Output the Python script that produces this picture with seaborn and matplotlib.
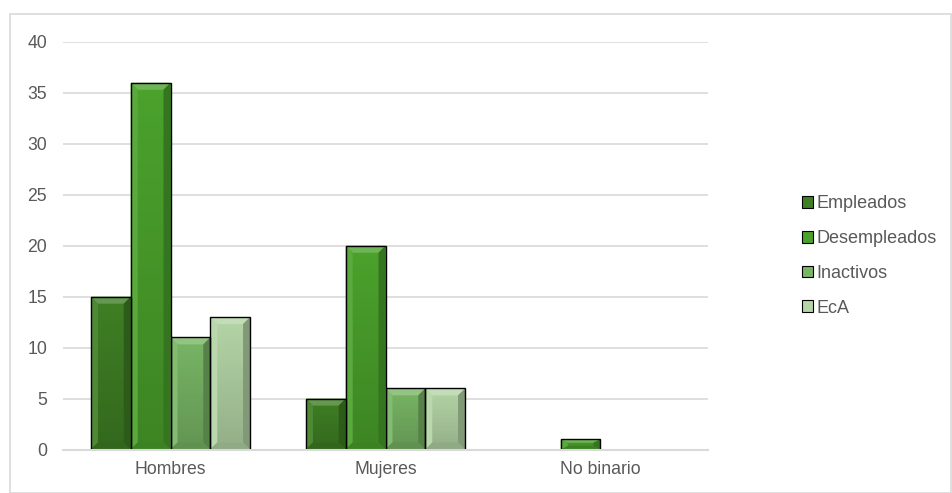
import numpy as np
import pandas as pd
import seaborn as sns
import matplotlib
from matplotlib import pyplot as plt
from matplotlib.patches import Polygon, Rectangle
from matplotlib.colors import to_rgb

matplotlib.use("Agg")

categories = ["Hombres", "Mujeres", "No binario"]
series = ["Empleados", "Desempleados", "Inactivos", "EcA"]
empleados = [15, 5, 0]
desempleados = [36, 20, 1]
inactivos = [11, 6, 0]
eca = [13, 6, 0]
yticks = [0, 5, 10, 15, 20, 25, 30, 35, 40]

colors = ["#3f7f24", "#4ba22c", "#78b565", "#b4d5a6"]
grey = "#d9d9d9"
text_c = "#595959"

sns.set_style("white")
plt.rcParams["font.family"] = ["Liberation Sans", "DejaVu Sans"]
fs = 12.7

rows = []
for s, vals in zip(series, [empleados, desempleados, inactivos, eca]):
    for c, v in zip(categories, vals):
        rows.append({"cat": c, "serie": s, "valor": v})
df = pd.DataFrame(rows)

fig = plt.figure(figsize=(9.52, 4.93), dpi=100)
ax = fig.add_axes([63 / 952, 43.5 / 493, 645 / 952, 407.5 / 493])

sns.barplot(data=df, x="cat", y="valor", hue="serie", hue_order=series,
            palette=colors, width=0.74, gap=0, saturation=1,
            edgecolor="none", linewidth=0, legend=False, ax=ax, zorder=2)

ax.set_xlim(-0.5, 2.5)
ax.set_ylim(0, 40)
ax.set_yticks(yticks)
ax.set_xlabel("")
ax.set_ylabel("")
ax.yaxis.grid(True, color=grey, linewidth=1.2, zorder=0)
ax.set_axisbelow(True)
for side in ["left", "right", "top"]:
    ax.spines[side].set_visible(False)
ax.spines["bottom"].set_color(grey)
ax.spines["bottom"].set_linewidth(1.5)
ax.set_xticks([-0.5, 0.5, 1.5, 2.5], minor=True)
ax.tick_params(axis="x", which="major", length=0, pad=8, labelsize=fs, labelcolor=text_c)
ax.tick_params(axis="x", which="minor", length=5, width=1.3, color=grey, direction="out")
ax.tick_params(axis="y", length=0, pad=11.5, labelsize=fs, labelcolor=text_c)

# bevel effect, sized in pixels converted to data units
inv = ax.transData.inverted()
p0 = inv.transform((0, 0))
p1 = inv.transform((7, 7))
bx, by = p1[0] - p0[0], p1[1] - p0[1]


def shade(c, f):
    r = np.array(to_rgb(c))
    if f > 0:
        return tuple(r + (1 - r) * f)
    return tuple(r * (1 + f))


# dark overlay, transparent at the top of a bar, darker towards its base
grad = np.zeros((100, 1, 4))
grad[..., 3] = np.linspace(0, 0.18, 100)[:, None]

for i, bar in enumerate(ax.patches):
    h = bar.get_height()
    if h <= 0:
        bar.set_visible(False)
        continue
    base = colors[i // len(categories)]
    x0, w = bar.get_x(), bar.get_width()
    x1, y1 = x0 + w, h
    ex = min(bx, w / 4)
    ey = min(by, h / 3)
    im = ax.imshow(grad, extent=(x0, x1, 0, y1), origin="upper", aspect="auto",
                   zorder=2.1, interpolation="bilinear")
    im.set_clip_path(bar)
    top = Polygon([(x0, y1), (x1, y1), (x1 - ex, y1 - ey), (x0 + ex, y1 - ey)],
                  closed=True, facecolor=shade(base, 0.2), edgecolor="none", zorder=2.2)
    left = Polygon([(x0, 0), (x0, y1), (x0 + ex, y1 - ey), (x0 + ex, ey)],
                   closed=True, facecolor=shade(base, 0.08), edgecolor="none", zorder=2.2)
    right = Polygon([(x1, 0), (x1, y1), (x1 - ex, y1 - ey), (x1 - ex, ey)],
                    closed=True, facecolor=shade(base, -0.28), edgecolor="none", zorder=2.2)
    bottom = Polygon([(x0, 0), (x1, 0), (x1 - ex, ey), (x0 + ex, ey)],
                     closed=True, facecolor=shade(base, -0.2), edgecolor="none", zorder=2.2)
    for p in (top, left, right, bottom):
        ax.add_patch(p)
    ax.add_patch(Rectangle((x0, 0), w, h, fill=False, edgecolor="black",
                           linewidth=1.0, zorder=2.3))

ax.set_xlim(-0.5, 2.5)
ax.set_ylim(0, 40)

handles = [Rectangle((0, 0), 1, 1, facecolor=c, edgecolor="black", linewidth=0.8)
           for c in colors]
fig.legend(handles, series, loc="center left", bbox_to_anchor=(802 / 952, 1 - 256 / 493),
           frameon=False, fontsize=13, labelcolor=text_c, handlelength=0.6,
           handleheight=0.6, handletextpad=0.2, labelspacing=0.98,
           borderpad=0, borderaxespad=0)

fig.patches.append(Rectangle((9.5 / 952, 0.5 / 493), 941 / 952, 479 / 493,
                             transform=fig.transFigure, fill=False,
                             edgecolor=grey, linewidth=1.2))

fig.savefig("out.png", dpi=100)
